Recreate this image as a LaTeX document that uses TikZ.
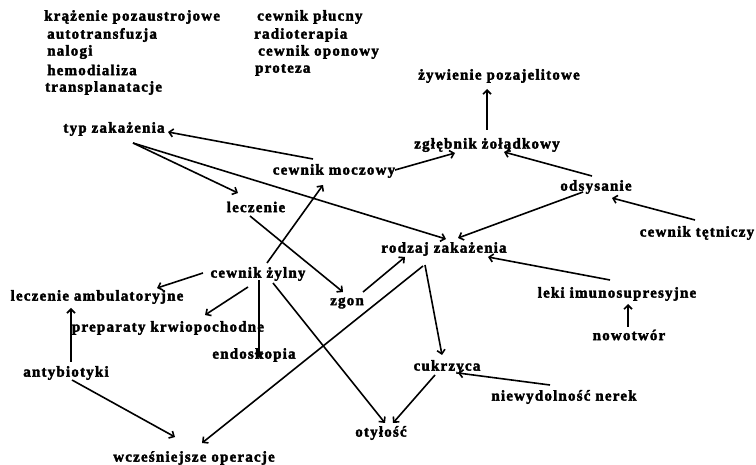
\documentclass[tikz,border=0pt]{standalone}
\usepackage{fontspec}
\setmainfont{Liberation Serif}[LetterSpace=8,BoldFeatures={FakeBold=2.4}]
\usetikzlibrary{arrows.meta}
\tikzset{
  lbl/.style={font=\bfseries\fontsize{15}{17}\selectfont, inner sep=0pt},
  lst/.style={lbl, anchor=west},
  arr/.style={line width=1.6pt, -{Straight Barb[length=4pt,width=8pt]}}
}
\begin{document}
\begin{tikzpicture}[x=1pt,y=-1pt]
\useasboundingbox (0,0) rectangle (756,465);
% lists
\node[lst] (l1) at (44,17) {krążenie pozaustrojowe};
\node[lst] (l2) at (47,35) {autotransfuzja};
\node[lst] (l3) at (47,52) {nalogi};
\node[lst] (l4) at (47,70) {hemodializa};
\node[lst] (l5) at (45,88) {transplanatacje};
\node[lst] (r1) at (257,17) {cewnik płucny};
\node[lst] (r2) at (254,35) {radioterapia};
\node[lst] (r3) at (258,52) {cewnik oponowy};
\node[lst] (r4) at (255,70) {proteza};
% graph nodes
\node[lbl] (zyw) at (499,76) {żywienie pozajelitowe};
\node[lbl] (typ) at (114,129) {typ zakażenia};
\node[lbl] (zgl) at (487,145) {zgłębnik żołądkowy};
\node[lbl] (moc) at (334,171) {cewnik moczowy};
\node[lbl] (ods) at (596,187) {odsysanie};
\node[lbl] (lecz) at (256,207) {leczenie};
\node[lbl] (tet) at (697,233) {cewnik tętniczy};
\node[lbl] (rodz) at (444,249) {rodzaj zakażenia};
\node[lbl] (zyl) at (258,274) {cewnik żylny};
\node[lbl] (amb) at (97,297) {leczenie ambulatoryjne};
\node[lbl] (leki) at (617,294) {leki imunosupresyjne};
\node[lbl] (zgon) at (347,303) {zgon};
\node[lbl] (prep) at (168,328) {preparaty krwiopochodne};
\node[lbl] (now) at (629,335) {nowotwór};
\node[lbl] (endo) at (254,355) {endoskopia};
\node[lbl] (cuk) at (447,367) {cukrzyca};
\node[lbl] (anty) at (66,373) {antybiotyki};
\node[lbl] (niew) at (564,397) {niewydolność nerek};
\node[lbl] (oty) at (381,433) {otyłość};
\node[lbl] (wcz) at (194,458) {wcześniejsze operacje};
% connectors
\draw[arr] ([shift={(-21,-12)}]moc.center) -- ([shift={(54,3)}]typ.center);
\draw[arr] ([shift={(19,14)}]typ.center) -- ([shift={(-18,-14)}]lecz.center);
\draw[arr] ([shift={(19,14)}]typ.center) -- ([shift={(2,-10)}]rodz.center);
\draw[arr] ([shift={(61,-1)}]moc.center) -- ([shift={(-32,8)}]zgl.center);
\draw[arr] ([shift={(0,-15)}]zgl.center) -- ([shift={(-12,13)}]zyw.center);
\draw[arr] ([shift={(-4,-11)}]ods.center) -- ([shift={(17,7)}]zgl.center);
\draw[arr] ([shift={(-2,-13)}]tet.center) -- ([shift={(16,11)}]ods.center);
\draw[arr] ([shift={(-13,5)}]ods.center) -- ([shift={(14,-11)}]rodz.center);
\draw[arr] ([shift={(-7,-14)}]leki.center) -- ([shift={(44,8)}]rodz.center);
\draw[arr] ([shift={(-1,-8)}]now.center) -- ([shift={(11,10)}]leki.center);
\draw[arr] ([shift={(-19,16)}]rodz.center) -- ([shift={(-5,-12)}]cuk.center);
\draw[arr] ([shift={(16,-11)}]zgon.center) -- ([shift={(-39,8)}]rodz.center);
\draw[arr] ([shift={(-21,17)}]rodz.center) -- ([shift={(8,-15)}]wcz.center);
\draw[arr] ([shift={(-6,9)}]lecz.center) -- ([shift={(-4,-11)}]zgon.center);
\draw[arr] ([shift={(9,-11)}]zyl.center) -- ([shift={(-11,14)}]moc.center);
\draw[arr] ([shift={(-55,-1)}]zyl.center) -- ([shift={(60,-9)}]amb.center);
\draw[arr] ([shift={(-10,13)}]zyl.center) -- ([shift={(37,-13)}]prep.center);
\draw[arr] ([shift={(1,6)}]zyl.center) -- ([shift={(5,3)}]endo.center);
\draw[arr] ([shift={(15,9)}]zyl.center) -- ([shift={(4,-10)}]oty.center);
\draw[arr] ([shift={(5,-11)}]anty.center) -- ([shift={(-26,11)}]amb.center);
\draw[arr] ([shift={(6,7)}]anty.center) -- ([shift={(-19,-21)}]wcz.center);
\draw[arr] ([shift={(-12,8)}]cuk.center) -- ([shift={(12,-10)}]oty.center);
\draw[arr] ([shift={(-14,-12)}]niew.center) -- ([shift={(11,6)}]cuk.center);
\end{tikzpicture}
\end{document}
